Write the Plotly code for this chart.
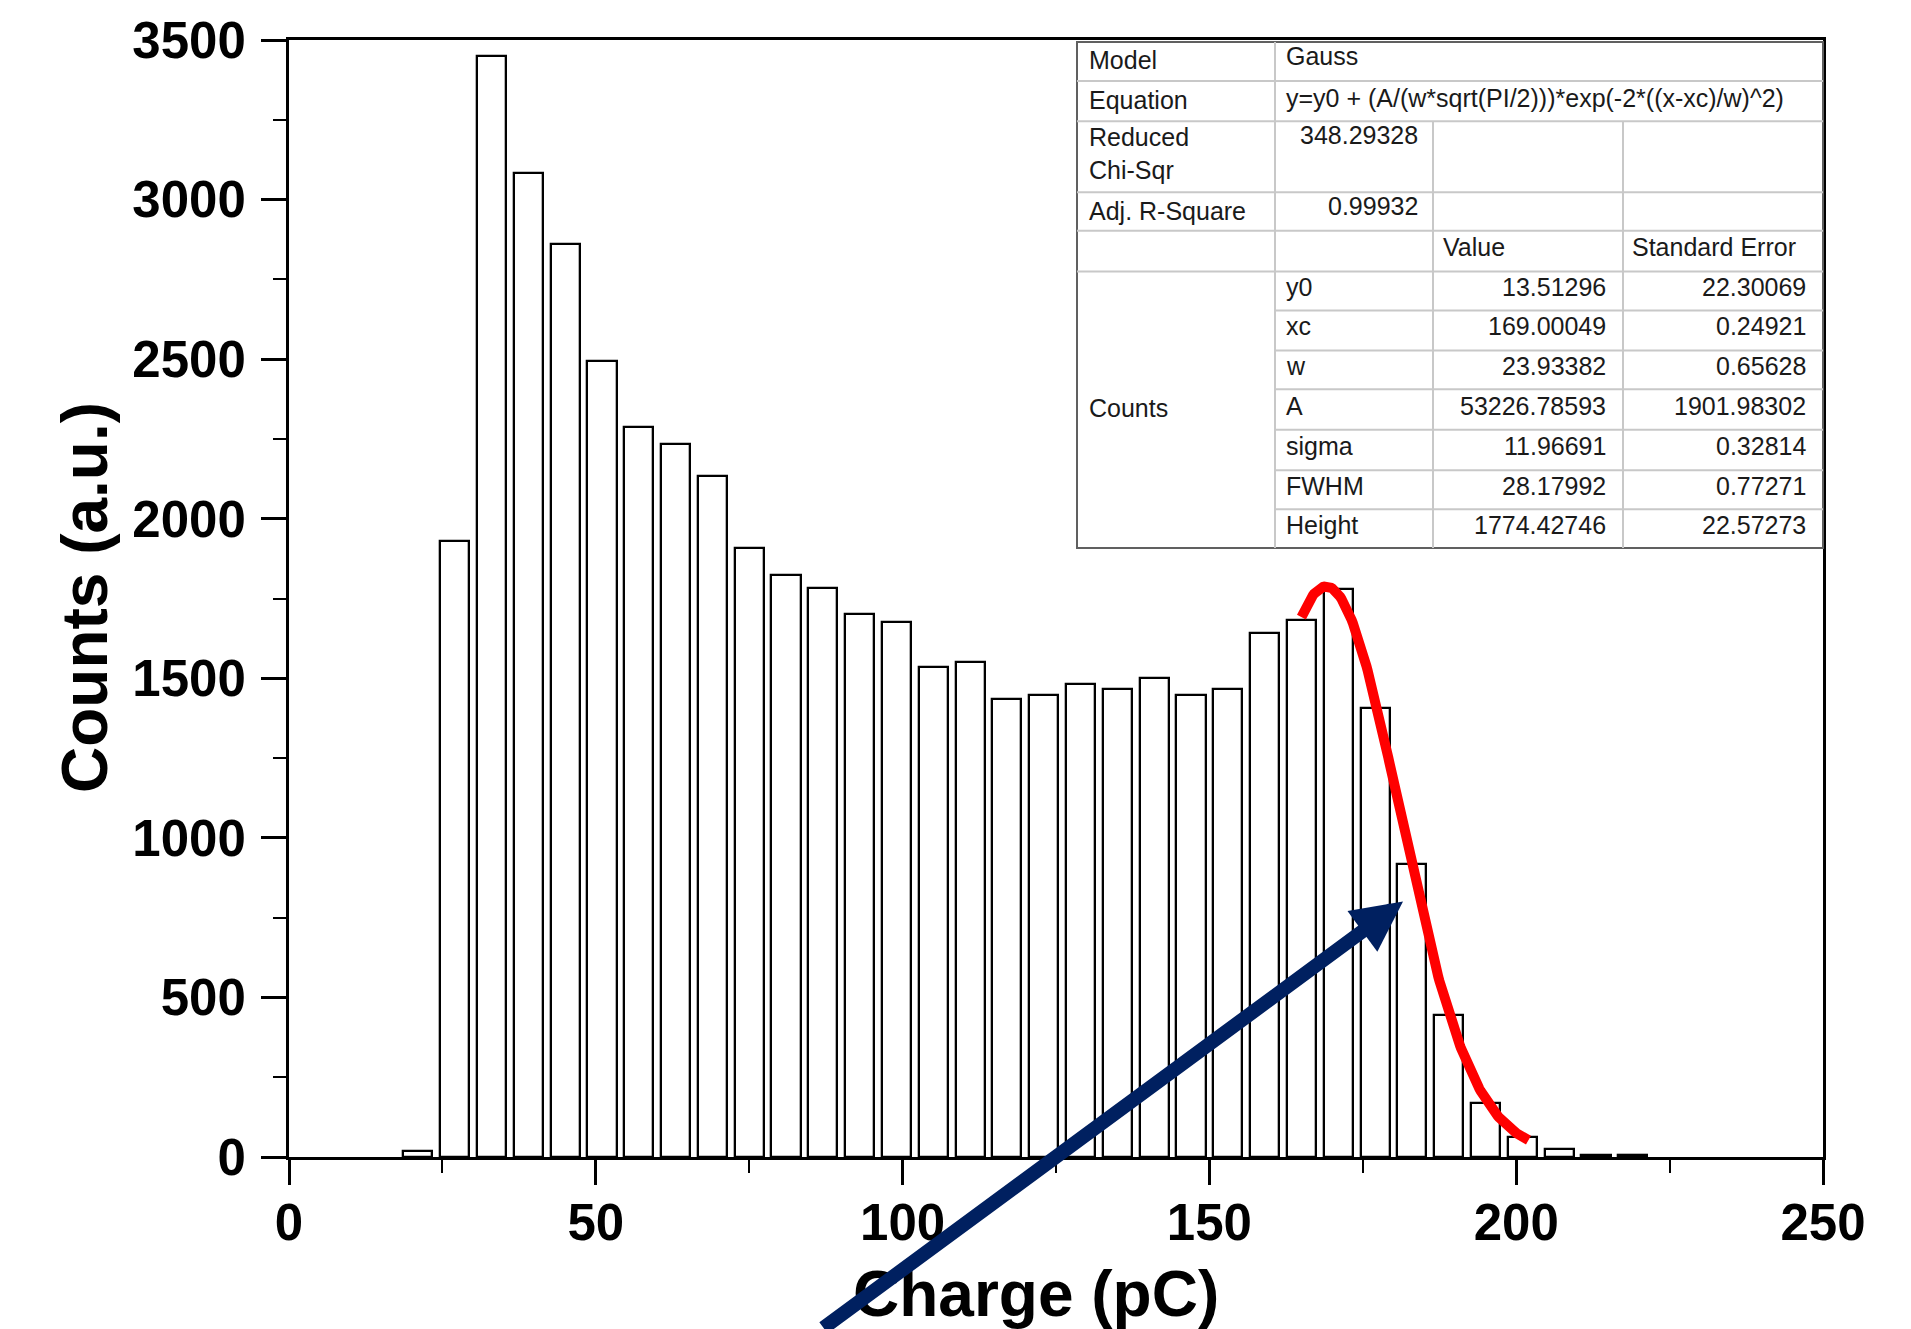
import plotly.graph_objects as go
import numpy as np

# ---------------- data ----------------
bin_centers = [21, 27, 33, 39, 45, 51, 57, 63, 69, 75, 81, 87, 93, 99, 105, 111, 117,
               123, 129, 135, 141, 147, 153, 159, 165, 171, 177, 183, 189, 195, 201,
               207, 213, 219]
counts = [18, 1930, 3449, 3084, 2861, 2493, 2287, 2234, 2133, 1909, 1823, 1782, 1701,
          1675, 1536, 1551, 1435, 1448, 1483, 1468, 1502, 1448, 1468, 1641, 1682, 1780,
          1408, 918, 446, 168, 62, 24, 5, 5]

# Gauss fit parameters (from the fit table)
fit_y0 = 13.51296
fit_xc = 169.00049
fit_w = 23.93382
fit_A = 53226.78593
fit_x_range = [165, 202]

table_rows = [
    ["Model", "Gauss"],
    ["Equation", "y=y0 + (A/(w*sqrt(PI/2)))*exp(-2*((x-xc)/w)^2)"],
    ["Reduced<br>Chi-Sqr", "348.29328"],
    ["Adj. R-Square", "0.99932"],
]
header_cols = ["Value", "Standard Error"]
param_names = ["y0", "xc", "w", "A", "sigma", "FWHM", "Height"]
param_values = ["13.51296", "169.00049", "23.93382", "53226.78593", "11.96691",
                "28.17992", "1774.42746"]
param_errors = ["22.30069", "0.24921", "0.65628", "1901.98302", "0.32814",
                "0.77271", "22.57273"]
group_label = "Counts"

x_ticks = [0, 50, 100, 150, 200, 250]
y_ticks = [0, 500, 1000, 1500, 2000, 2500, 3000, 3500]
x_title = "Charge (pC)"
y_title = "Counts (a.u.)"

# ---------------- layout geometry (pixels) ----------------
W, H = 1911, 1329
L, R, T, B = 289, 1823, 38, 1157


def px(xp):
    return (xp - L) / (R - L)


def py(yp):
    return (B - yp) / (B - T)


fig = go.Figure()

fig.add_trace(go.Bar(
    x=bin_centers, y=counts, width=4.75,
    marker=dict(color="white", line=dict(color="black", width=2.3)),
    showlegend=False,
))

xf = np.linspace(fit_x_range[0], fit_x_range[1], 200)
yf = fit_y0 + (fit_A / (fit_w * np.sqrt(np.pi / 2))) * np.exp(-2 * ((xf - fit_xc) / fit_w) ** 2)
fig.add_trace(go.Scatter(x=xf, y=yf, mode="lines",
                         line=dict(color="#ff0000", width=10), showlegend=False))

tickfont = dict(family="Liberation Sans, Arial", size=51, color="black")
titlefont = dict(family="Liberation Sans, Arial", size=64, color="black")

fig.update_layout(
    width=W, height=H,
    margin=dict(l=L, r=W - R, t=T, b=H - B),
    paper_bgcolor="white", plot_bgcolor="white",
    bargap=0,
    xaxis=dict(range=[0, 250], tickvals=x_ticks,
               ticktext=["<b>%d</b>" % v for v in x_ticks],
               ticks="outside", ticklen=25, tickwidth=2.5, tickcolor="black",
               ticklabelstandoff=-6,
               minor=dict(dtick=25, ticks="outside", ticklen=13, tickwidth=2, tickcolor="black"),
               showline=True, linewidth=3, linecolor="black", mirror=True,
               showgrid=False, zeroline=False, tickfont=tickfont),
    yaxis=dict(range=[0, 3500], tickvals=y_ticks,
               ticktext=["<b>%d</b>" % v for v in y_ticks],
               ticks="outside", ticklen=25, tickwidth=2.5, tickcolor="black",
               ticklabelstandoff=5,
               minor=dict(dtick=250, ticks="outside", ticklen=13, tickwidth=2, tickcolor="black"),
               showline=True, linewidth=3, linecolor="black", mirror=True,
               showgrid=False, zeroline=False, tickfont=tickfont),
)

# ---------------- fit table ----------------
row_y = [40, 79, 119.5, 190.5, 229, 270, 309, 349, 388, 428.5, 469, 508, 547]
col_x = [1077, 1275, 1433, 1623, 1823]
grid = "#c8c8c8"
border = "#606060"
shapes = []
shapes.append(dict(type="rect", xref="paper", yref="paper",
                   x0=px(col_x[0]), x1=px(col_x[-1]), y0=py(row_y[-1]), y1=py(row_y[0]),
                   fillcolor="white", line=dict(color=border, width=2), layer="above"))
for yy in row_y[1:6]:
    shapes.append(dict(type="line", xref="paper", yref="paper", x0=px(col_x[0]), x1=px(col_x[-1]),
                       y0=py(yy), y1=py(yy), line=dict(color=grid, width=2), layer="above"))
for yy in row_y[6:12]:
    shapes.append(dict(type="line", xref="paper", yref="paper", x0=px(col_x[1]), x1=px(col_x[-1]),
                       y0=py(yy), y1=py(yy), line=dict(color=grid, width=2), layer="above"))
shapes.append(dict(type="line", xref="paper", yref="paper", x0=px(col_x[1]), x1=px(col_x[1]),
                   y0=py(row_y[0]), y1=py(row_y[-1]), line=dict(color=grid, width=2), layer="above"))
for xx in col_x[2:4]:
    shapes.append(dict(type="line", xref="paper", yref="paper", x0=px(xx), x1=px(xx),
                       y0=py(row_y[2]), y1=py(row_y[-1]), line=dict(color=grid, width=2), layer="above"))
fig.update_layout(shapes=shapes)

tfont = dict(family="Liberation Sans, Arial", size=25, color="#1a1a1a")
ann = []


def txt(text, x, y, xa="left", ya="middle", font=tfont, angle=0):
    ann.append(dict(text=text, x=px(x), y=py(y), xref="paper", yref="paper",
                    xanchor=xa, yanchor=ya, showarrow=False, font=font, align="left",
                    textangle=angle))


txt(table_rows[0][0], 1087, 58)
txt(table_rows[0][1], 1284, 54)
txt(table_rows[1][0], 1087, 98)
txt(table_rows[1][1], 1284, 96)
txt(table_rows[2][0], 1087, 152)
txt(table_rows[2][1], 1420, 133, xa="right")
txt(table_rows[3][0], 1087, 209)
txt(table_rows[3][1], 1420, 204, xa="right")
txt(header_cols[0], 1441, 245)
txt(header_cols[1], 1630, 245)
txt(group_label, 1087, 407)
for i, (n, v, e) in enumerate(zip(param_names, param_values, param_errors)):
    yc = (row_y[5 + i] + row_y[6 + i]) / 2 - 4
    txt(n, 1284, yc)
    txt(v, 1608, yc, xa="right")
    txt(e, 1808, yc, xa="right")

# axis titles
txt("<b>" + x_title + "</b>", 1036, 1294, xa="center", font=titlefont)
txt("<b>" + y_title + "</b>", 85, 597, xa="center", font=titlefont, angle=-90)

# ---------------- arrow ----------------
tip_x = (1403 - L) / (R - L) * 250
tip_y = (B - 901) / (B - T) * 3500
ann.append(dict(x=tip_x, y=tip_y, xref="x", yref="y", text="", showarrow=True,
                ax=-581, ay=428, axref="pixel", ayref="pixel",
                arrowhead=2, arrowsize=0.72, arrowwidth=14, arrowcolor="#002060", standoff=0))
fig.update_layout(annotations=ann)

fig.write_html("out.html")
